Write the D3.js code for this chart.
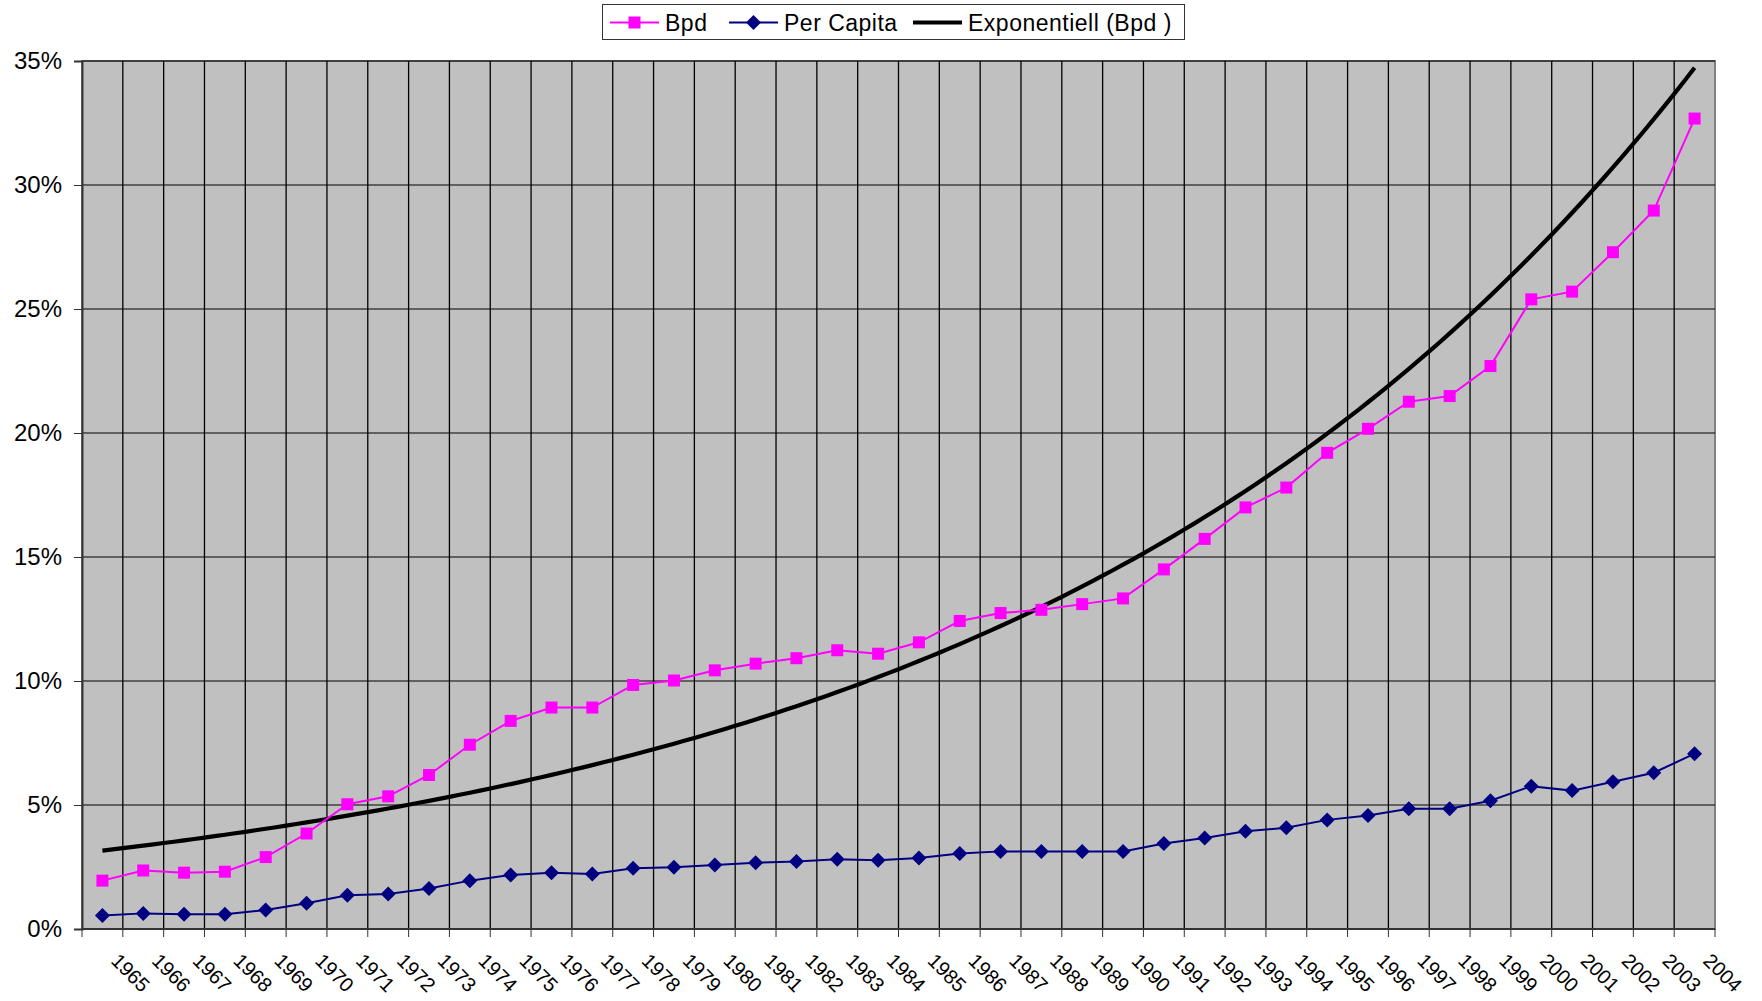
<!DOCTYPE html>
<html lang="en">
<head>
    <meta charset="UTF-8">
    <title>Bpd and Per Capita</title>
    <script src="https://d3js.org/d3.v7.min.js"></script>
    <style>
        body { margin: 0; background: #fff; }
        text { font-family: "Liberation Sans", Arial, sans-serif; }
    </style>
</head>
<body>
    <svg id="chart" width="1762" height="1001"></svg>

    <script>
        // Years on the category axis
        const years = d3.range(1965, 2005).map(String);

        // Bpd share (%)
        const bpd = [1.95, 2.36, 2.27, 2.31, 2.90, 3.85, 5.03, 5.35, 6.21, 7.43,
                     8.39, 8.93, 8.93, 9.84, 10.02, 10.43, 10.70, 10.92, 11.24, 11.10,
                     11.56, 12.42, 12.74, 12.87, 13.10, 13.33, 14.50, 15.73, 17.00, 17.80,
                     19.20, 20.17, 21.26, 21.49, 22.70, 25.39, 25.70, 27.29, 28.97, 32.68];

        // Per Capita share (%)
        const perCapita = [0.54, 0.63, 0.59, 0.59, 0.77, 1.04, 1.36, 1.41, 1.63, 1.95,
                           2.18, 2.27, 2.22, 2.45, 2.49, 2.58, 2.67, 2.72, 2.81, 2.77,
                           2.86, 3.04, 3.13, 3.13, 3.13, 3.13, 3.45, 3.67, 3.94, 4.08,
                           4.40, 4.58, 4.85, 4.85, 5.17, 5.76, 5.58, 5.94, 6.30, 7.07];

        const yTicks = [0, 5, 10, 15, 20, 25, 30, 35];

        const svg = d3.select('#chart');
        const plot = { left: 82, top: 61, right: 1715, bottom: 929 };

        const x = d3.scaleBand().domain(years).range([plot.left, plot.right]).padding(0);
        const y = d3.scaleLinear().domain([0, 35]).range([plot.bottom, plot.top]);
        const cx = d => x(d) + x.bandwidth() / 2;

        // plot background
        svg.append('rect')
            .attr('x', plot.left).attr('y', plot.top)
            .attr('width', plot.right - plot.left).attr('height', plot.bottom - plot.top)
            .attr('fill', '#c0c0c0')
            .attr('stroke', '#808080').attr('stroke-width', 2);

        // vertical gridlines at category boundaries
        svg.append('g').selectAll('line')
            .data(years.slice(1))
            .join('line')
            .attr('x1', d => x(d)).attr('x2', d => x(d))
            .attr('y1', plot.top).attr('y2', plot.bottom)
            .attr('stroke', '#000').attr('stroke-width', 1.3);

        // horizontal gridlines
        svg.append('g').selectAll('line')
            .data(yTicks.slice(1))
            .join('line')
            .attr('x1', plot.left).attr('x2', plot.right)
            .attr('y1', d => y(d)).attr('y2', d => y(d))
            .attr('stroke', '#000').attr('stroke-width', 1);

        // y axis
        const yAxis = svg.append('g')
            .attr('transform', `translate(${plot.left},0)`)
            .call(d3.axisLeft(y).tickValues(yTicks).tickSize(8).tickPadding(12).tickFormat(d => d + '%'));
        yAxis.select('.domain').attr('stroke', '#333').attr('stroke-width', 2);
        yAxis.selectAll('.tick line').attr('stroke', '#333');
        yAxis.selectAll('text').attr('font-size', 24).attr('fill', '#000')
            .style('font-family', '"Liberation Sans", Arial, sans-serif');

        // x axis: ticks on category boundaries
        const xAxisG = svg.append('g');
        xAxisG.append('line')
            .attr('x1', plot.left).attr('x2', plot.right)
            .attr('y1', plot.bottom).attr('y2', plot.bottom)
            .attr('stroke', '#333').attr('stroke-width', 2);
        xAxisG.selectAll('.tk')
            .data(years.concat(['end']))
            .join('line')
            .attr('class', 'tk')
            .attr('x1', (d, i) => plot.left + i * x.bandwidth())
            .attr('x2', (d, i) => plot.left + i * x.bandwidth())
            .attr('y1', plot.bottom).attr('y2', plot.bottom + 8)
            .attr('stroke', '#333');
        xAxisG.selectAll('text')
            .data(years)
            .join('text')
            .attr('transform', d => `translate(${x(d) + x.bandwidth() - 8},957) rotate(45)`)
            .attr('dy', '0.35em')
            .attr('font-size', 20)
            .text(d => d);

        // exponential trendline (least squares fit of ln(Bpd), as Excel does)
        const n = bpd.length;
        const xs = d3.range(1, n + 1);
        const ln = bpd.map(v => Math.log(v));
        const mx = d3.mean(xs), my = d3.mean(ln);
        const b = d3.sum(xs, (v, i) => (v - mx) * (ln[i] - my)) / d3.sum(xs, v => (v - mx) * (v - mx));
        const a = my - b * mx;
        const trend = d3.range(0, n - 1 + 0.001, 0.25).map(t => ({ t, v: Math.exp(a + b * (t + 1)) }));
        const xt = d3.scaleLinear().domain([0, n - 1]).range([cx(years[0]), cx(years[n - 1])]);

        svg.append('path')
            .datum(trend)
            .attr('fill', 'none')
            .attr('stroke', '#000')
            .attr('stroke-width', 4.2)
            .attr('d', d3.line().x(d => xt(d.t)).y(d => y(d.v)));

        // Per Capita series
        svg.append('path')
            .datum(perCapita)
            .attr('fill', 'none')
            .attr('stroke', '#000080')
            .attr('stroke-width', 2)
            .attr('d', d3.line().x((d, i) => cx(years[i])).y(d => y(d)));
        svg.append('g').selectAll('path')
            .data(perCapita)
            .join('path')
            .attr('transform', (d, i) => `translate(${cx(years[i])},${y(d)})`)
            .attr('d', 'M0,-7.5L7.5,0L0,7.5L-7.5,0Z')
            .attr('fill', '#000080');

        // Bpd series
        svg.append('path')
            .datum(bpd)
            .attr('fill', 'none')
            .attr('stroke', '#ff00ff')
            .attr('stroke-width', 2)
            .attr('d', d3.line().x((d, i) => cx(years[i])).y(d => y(d)));
        svg.append('g').selectAll('rect')
            .data(bpd)
            .join('rect')
            .attr('x', (d, i) => cx(years[i]) - 6)
            .attr('y', d => y(d) - 6)
            .attr('width', 12).attr('height', 12)
            .attr('fill', '#ff00ff');

        // legend
        const legend = svg.append('g');
        legend.append('rect')
            .attr('x', 602.5).attr('y', 4.5)
            .attr('width', 582).attr('height', 35)
            .attr('fill', '#fff').attr('stroke', '#333');

        const items = [
            { name: 'Bpd', x: 610, color: '#ff00ff', marker: 'square', width: 2 },
            { name: 'Per Capita', x: 729, color: '#000080', marker: 'diamond', width: 2 },
            { name: 'Exponentiell (Bpd )', x: 913, color: '#000', marker: null, width: 4.2 }
        ];
        items.forEach(it => {
            legend.append('line')
                .attr('x1', it.x).attr('x2', it.x + 49)
                .attr('y1', 22.5).attr('y2', 22.5)
                .attr('stroke', it.color).attr('stroke-width', it.width);
            if (it.marker === 'square') {
                legend.append('rect')
                    .attr('x', it.x + 18.5).attr('y', 16.5).attr('width', 12).attr('height', 12)
                    .attr('fill', it.color);
            } else if (it.marker === 'diamond') {
                legend.append('path')
                    .attr('transform', `translate(${it.x + 24.5},22.5)`)
                    .attr('d', 'M0,-7.5L7.5,0L0,7.5L-7.5,0Z')
                    .attr('fill', it.color);
            }
            legend.append('text')
                .attr('x', it.x + 55).attr('y', 30.5)
                .attr('font-size', 23)
                .attr('letter-spacing', 0.5)
                .text(it.name);
        });
    </script>
</body>
</html>
